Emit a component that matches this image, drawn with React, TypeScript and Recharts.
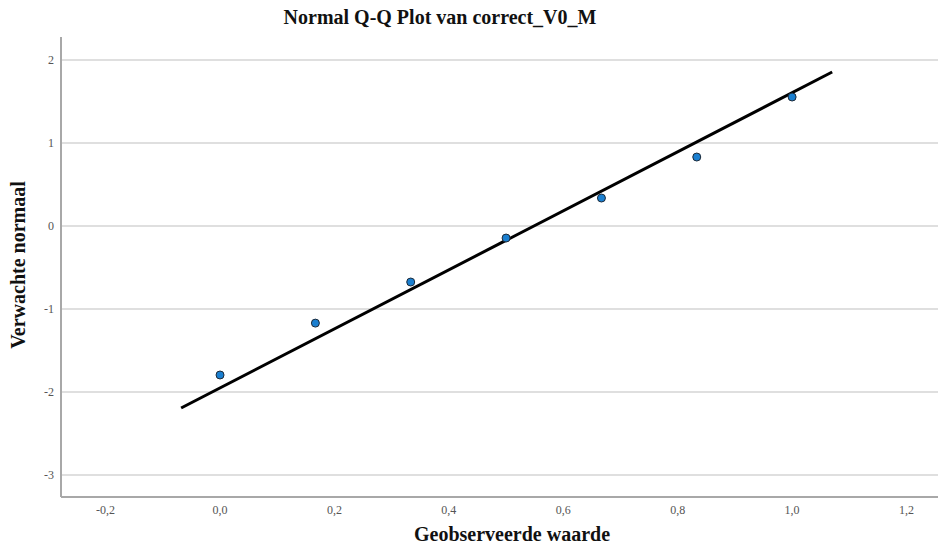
import React from 'react';
import { ScatterChart, Scatter, XAxis, YAxis, ReferenceLine } from 'recharts';

// observed values vs expected normal quantiles
const observed = [0.0, 0.1667, 0.3333, 0.5, 0.6667, 0.8333, 1.0];
const expected = [-1.795, -1.17, -0.675, -0.145, 0.337, 0.831, 1.554];

// reference line end points
const lineX = [-0.068, 1.07];
const lineY = [-2.193, 1.855];

const xTicks = [-0.2, 0, 0.2, 0.4, 0.6, 0.8, 1.0, 1.2];
const yTicks = [-3, -2, -1, 0, 1, 2];

const points = observed.map((x, i) => ({ x, y: expected[i] }));
const refLine = lineX.map((x, i) => ({ x, y: lineY[i] }));

const serif = '"Liberation Serif", "Times New Roman", serif';
const tickStyle = { fontSize: 12, fill: '#555', fontFamily: serif };

const fmtX = (v: number) => v.toFixed(1).replace('.', ',');

const App: React.FC = () => {
  return (
    <div style={{ position: 'absolute', left: 0, top: 0, width: 940, height: 544, background: '#fff' }}>
      <div
        style={{
          position: 'absolute', left: 0, width: 880, top: 6, textAlign: 'center',
          fontFamily: serif, fontWeight: 'bold', fontSize: 20, color: '#111', whiteSpace: 'nowrap',
        }}
      >
        Normal Q-Q Plot van correct_V0_M
      </div>
      <ScatterChart width={940} height={544} margin={{ top: 37, right: 2, bottom: 0, left: 0 }}>
        {/* horizontal gridlines at each y tick */}
        {yTicks.map((t) => (
          <ReferenceLine key={t} y={t} stroke="#d4d4d4" strokeWidth={1.5} />
        ))}
        <XAxis
          type="number"
          dataKey="x"
          domain={[-0.278, 1.255]}
          ticks={xTicks}
          tickFormatter={fmtX}
          allowDataOverflow
          height={47}
          tickSize={0}
          tickMargin={8}
          tickLine={false}
          axisLine={{ stroke: '#a8a8a8', strokeWidth: 2 }}
          tick={tickStyle}
        />
        <YAxis
          type="number"
          dataKey="y"
          domain={[-3.265, 2.277]}
          ticks={yTicks}
          allowDataOverflow
          width={61}
          tickSize={0}
          tickMargin={7}
          tickLine={false}
          axisLine={{ stroke: '#a8a8a8', strokeWidth: 2 }}
          tick={tickStyle}
        />
        <Scatter
          data={refLine}
          line={{ stroke: '#000', strokeWidth: 3 }}
          shape={() => null}
          isAnimationActive={false}
        />
        <Scatter
          data={points}
          fill="#1a7fd0"
          shape={(p: any) => <circle cx={p.cx} cy={p.cy} r={4} fill="#1a7fd0" stroke="#1e2a38" strokeWidth={1} />}
          isAnimationActive={false}
        />
      </ScatterChart>
      <div
        style={{
          position: 'absolute', left: 412, width: 200, top: 523, textAlign: 'center',
          fontFamily: serif, fontWeight: 'bold', fontSize: 20, color: '#111', whiteSpace: 'nowrap',
        }}
      >
        Geobserveerde waarde
      </div>
      <div
        style={{
          position: 'absolute', left: 18, top: 265, transform: 'translate(-50%, -50%) rotate(-90deg)',
          fontFamily: serif, fontWeight: 'bold', fontSize: 20, color: '#111', whiteSpace: 'nowrap',
        }}
      >
        Verwachte normaal
      </div>
    </div>
  );
};

export default App;
